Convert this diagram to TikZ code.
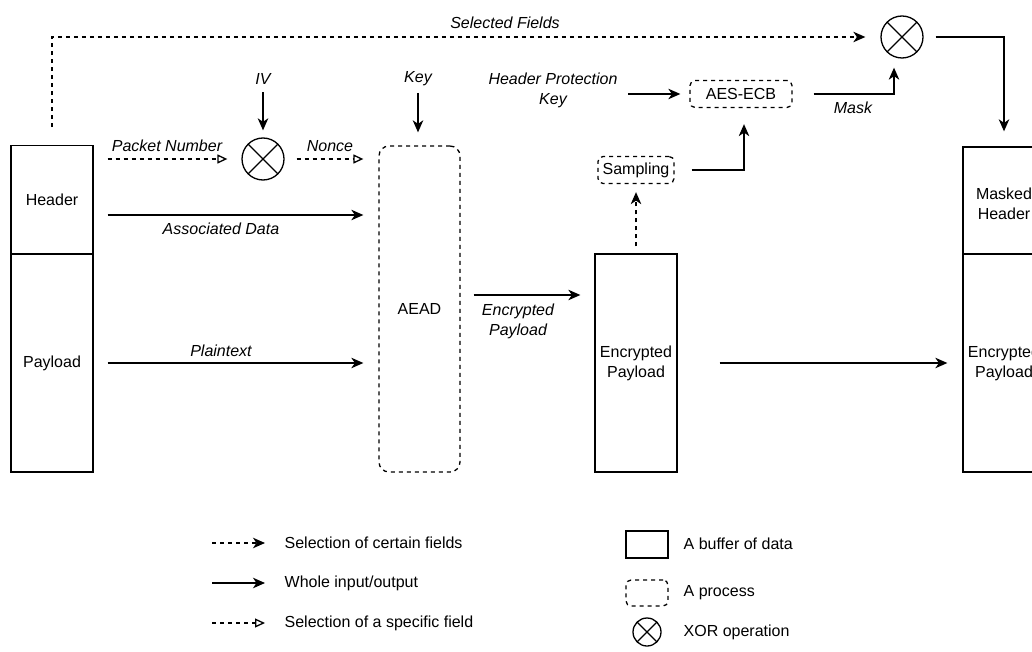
\documentclass[tikz,border=0pt]{standalone}
\usepackage{fontspec}
\setmainfont{Liberation Sans}
\usetikzlibrary{arrows.meta,calc}

\begin{document}
\begin{tikzpicture}[x=1pt,y=-1pt,
  font=\fontsize{16pt}{20pt}\selectfont,
  line width=1.3pt,
  buffer/.style={draw, rectangle, minimum width=82pt, inner sep=0pt, align=center},
  process/.style={draw, dash pattern=on 4pt off 4pt, rounded corners=5pt, inner sep=0pt, align=center},
  xor/.style={draw, circle, inner sep=0pt, minimum size=42pt,
    path picture={\draw (path picture bounding box.north west) -- (path picture bounding box.south east)
                        (path picture bounding box.north east) -- (path picture bounding box.south west);}},
  lbl/.style={font=\fontsize{16pt}{20pt}\selectfont\itshape, inner sep=0pt, align=center},
  lgtxt/.style={inner sep=0pt, anchor=west},
  whole/.style={-{Stealth[length=12pt,width=10.5pt,inset=3.5pt]}},
  certain/.style={dash pattern=on 4pt off 4pt, -{Stealth[length=12pt,width=10.5pt,inset=3.5pt]}},
  specific/.style={dash pattern=on 4pt off 4pt, -{Triangle[open,length=10pt,width=9pt]}},
]
\useasboundingbox (0,0) rectangle (1032,652);
\clip (0,0) rectangle (1032,652);

% packet buffers and processes
\node[buffer, minimum height=108.5pt] (hdr) at (52,200) {Header};
\node[buffer, minimum height=218pt] (pay) at (52,363) {Payload};
\node[xor] (xor1) at (263,159) {};
\node[process, rounded corners=10pt, minimum width=81pt, minimum height=326pt] (aead) at (419.5,309) {AEAD};
\node[buffer, minimum height=218pt] (mid) at (636,363) {Encrypted\\Payload};
\node[process, minimum width=76pt, minimum height=27pt] (samp) at (636,170) {Sampling};
\node[process, minimum width=102pt, minimum height=27pt] (aes) at (741,94) {AES-ECB};
\node[xor] (xor2) at (902,37) {};
\node[buffer, minimum height=107pt,
      label={[align=center, inner sep=0pt, yshift=-3pt]center:Masked\\Header}] (rhdr) at (1004,200.5) {};
\node[buffer, minimum height=218pt] (rpay) at (1004,363) {Encrypted\\Payload};

% connector labels
\node[lbl] (iv) at (263,79) {IV};
\node[lbl] (key) at (418,79) {Key};
\node[lbl] (hpk) at (553,90) {Header Protection\\Key};
\node[lbl] (selfields) at (505,23) {Selected Fields};
\node[lbl] (pn) at (167,146) {Packet Number};
\node[lbl] (nonce) at (330,146) {Nonce};
\node[lbl] (assoc) at (221,229) {Associated Data};
\node[lbl] (plain) at (221,351) {Plaintext};
\node[lbl] (encp) at (518,321) {Encrypted\\Payload};
\node[lbl] (mask) at (853,108) {Mask};

% connectors
\draw[certain, shorten <=18pt, shorten >=15pt] (hdr.north) |- (xor2.west);
\draw[whole, shorten <=7pt, shorten >=7pt] (iv.south) -- (xor1.north);
\draw[specific, shorten <=14pt, shorten >=14pt] (hdr.east |- xor1.west) -- (xor1.west);
\draw[specific, shorten <=12pt, shorten >=15pt] (xor1.east) -- (xor1.east -| aead.west);
\draw[whole, shorten <=6pt, shorten >=13pt] (key.south) -- (key.south |- aead.north);
\coordinate (ad) at ($(hdr.east)+(0,15)$);
\draw[whole, shorten <=14pt, shorten >=15pt] (ad) -- (ad -| aead.west);
\draw[whole, shorten <=14pt, shorten >=15pt] (pay.east) -- (pay.east -| aead.west);
\coordinate (ep) at ($(aead.east)+(0,-14)$);
\draw[whole, shorten <=13pt, shorten >=14pt] (ep) -- (ep -| mid.west);
\draw[certain, shorten <=7pt, shorten >=8pt] (mid.north) -- (samp.south);
\draw[whole, shorten <=17pt, shorten >=16pt] (samp.east) -| ($(aes.south)+(3,0)$);
\draw[whole, shorten <=10pt, shorten >=9pt] (hpk.east |- aes.west) -- (aes.west);
\draw[whole, shorten <=21pt, shorten >=9pt] (aes.east) -| ($(xor2.south)+(-8,0)$);
\draw[whole, shorten <=12pt, shorten >=15pt] (xor2.east) -| (rhdr.north);
\draw[whole, shorten <=42pt, shorten >=15pt] (mid.east) -- (rpay.west);

% legend
\coordinate (lg1) at (212,543);
\coordinate (lg2) at (212,583);
\coordinate (lg3) at (212,623);
\node[lgtxt] (lt1) at (284,543) {Selection of certain fields};
\node[lgtxt] (lt2) at (284,583) {Whole input/output};
\node[lgtxt] (lt3) at (284,623) {Selection of a specific field};
\draw[certain, shorten >=19pt] (lg1) -- (lt1.west);
\draw[whole, shorten >=19pt] (lg2) -- (lt2.west);
\draw[specific, shorten >=19pt] (lg3) -- (lt3.west);

\node[buffer, minimum width=42pt, minimum height=27pt] (lgbuf) at (647,544.5) {};
\node[lgtxt] (lt4) at (683,544) {A buffer of data};
\node[process, minimum width=42pt, minimum height=26pt] (lgproc) at (647,593) {};
\node[lgtxt] (lt5) at (683,593) {A process};
\node[xor, minimum size=28pt] (lgxor) at (647,632) {};
\node[lgtxt] (lt6) at (683,632) {XOR operation};
\end{tikzpicture}
\end{document}
